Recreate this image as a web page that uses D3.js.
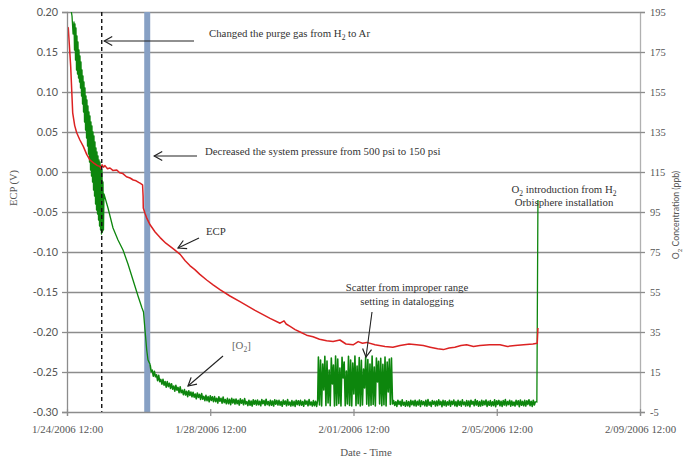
<!DOCTYPE html>
<html>
<head>
<meta charset="utf-8">
<script src="https://cdn.jsdelivr.net/npm/d3@7"></script>
<style>
  body { margin: 0; background: #fff; }
  svg { display: block; }
</style>
</head>
<body>
<svg id="chart" width="684" height="465"></svg>
<script>
// ---- axis ticks ----
const ecpTicks = [0.20, 0.15, 0.10, 0.05, 0.00, -0.05, -0.10, -0.15, -0.20, -0.25, -0.30];
const ecpTickLabels = ["0.20", "0.15", "0.10", "0.05", "0.00", "-0.05", "-0.10", "-0.15", "-0.20", "-0.25", "-0.30"];
const o2Ticks = [195, 175, 155, 135, 115, 95, 75, 55, 35, 15, -5];
const o2TickLabels = ["195", "175", "155", "135", "115", "95", "75", "55", "35", "15", "-5"];
// days elapsed since 1/24/2006 12:00
const dateTickDays = [0, 4, 8, 12, 16];
const dateTickLabels = ["1/24/2006 12:00", "1/28/2006 12:00", "2/01/2006 12:00", "2/05/2006 12:00", "2/09/2006 12:00"];

// ---- events ----
const purgeChangeDay = 0.97;
const pressureDropDay = 2.24;

// ---- ECP (V) vs elapsed days ----
const ecpData = [
  [0.02, 0.181], [0.036, 0.180], [0.103, 0.132], [0.159, 0.074], [0.215, 0.058], [0.271, 0.049],
  [0.36, 0.040], [0.455, 0.032], [0.55, 0.022], [0.642, 0.015], [0.75, 0.011], [0.85, 0.008],
  [0.92, 0.007], [0.95, 0.004], [0.98, 0.009], [1.02, 0.006], [1.06, 0.008], [1.13, 0.004],
  [1.20, 0.005], [1.28, 0.002], [1.39, 0.0025], [1.47, -0.001], [1.56, -0.002], [1.66, -0.006],
  [1.76, -0.0075], [1.85, -0.010], [1.93, -0.011], [2.00, -0.013], [2.04, -0.014], [2.11, -0.016],
  [2.125, -0.030], [2.13, -0.045], [2.18, -0.052], [2.23, -0.058], [2.32, -0.066], [2.46, -0.075],
  [2.60, -0.082], [2.76, -0.089], [2.97, -0.096], [3.16, -0.103], [3.30, -0.111], [3.43, -0.117],
  [3.57, -0.122], [3.71, -0.128], [3.90, -0.135], [4.08, -0.141], [4.27, -0.147], [4.55, -0.155],
  [4.83, -0.162], [5.25, -0.173], [5.67, -0.183], [5.95, -0.189], [6.06, -0.186], [6.12, -0.190],
  [6.23, -0.193], [6.37, -0.197], [6.51, -0.200], [6.69, -0.204], [6.87, -0.206], [7.05, -0.209],
  [7.25, -0.211], [7.43, -0.212], [7.62, -0.210], [7.79, -0.215], [7.99, -0.216], [8.13, -0.212],
  [8.25, -0.214], [8.37, -0.213], [8.60, -0.216], [8.88, -0.218], [9.10, -0.219], [9.30, -0.217],
  [9.55, -0.215], [9.76, -0.216], [9.95, -0.217], [10.14, -0.219], [10.35, -0.221], [10.51, -0.222],
  [10.67, -0.220], [10.83, -0.219], [11.00, -0.217], [11.16, -0.216], [11.35, -0.218], [11.53, -0.217],
  [11.80, -0.216], [12.09, -0.216], [12.30, -0.218], [12.51, -0.217], [12.75, -0.216], [13.01, -0.215],
  [13.13, -0.214], [13.15, -0.195]
];

// ---- O2 concentration (ppb) ----
// start-up transient, sampled irregularly
const o2Early = [
  [0.085, 199], [0.14, 193], [0.17, 184],
  [0.195, 190], [0.209, 176], [0.223, 189], [0.237, 171], [0.251, 187], [0.265, 166], [0.279, 183],
  [0.293, 164], [0.307, 180], [0.321, 162], [0.335, 176], [0.349, 160], [0.363, 173], [0.377, 157],
  [0.391, 170], [0.405, 153], [0.419, 166], [0.433, 149], [0.447, 163], [0.461, 145], [0.475, 160],
  [0.489, 140], [0.503, 157], [0.517, 136], [0.531, 153], [0.545, 132], [0.558, 151], [0.572, 128],
  [0.586, 148], [0.600, 124], [0.614, 145], [0.628, 120], [0.642, 143], [0.656, 116], [0.670, 140],
  [0.684, 113], [0.698, 138], [0.712, 110], [0.726, 135], [0.740, 106], [0.754, 133], [0.768, 103],
  [0.782, 130], [0.796, 99], [0.810, 127], [0.824, 96], [0.838, 125], [0.852, 94], [0.866, 123],
  [0.880, 91], [0.894, 121], [0.908, 88], [0.922, 120], [0.936, 86], [0.949, 118], [0.963, 84],
  [0.977, 116], [0.991, 85], [1.005, 110], [1.019, 86], [1.033, 104],
  [1.145, 97], [1.285, 87], [1.424, 81], [1.564, 76], [1.703, 69], [1.843, 61], [1.983, 53],
  [2.094, 47], [2.136, 45], [2.178, 36], [2.226, 26], [2.262, 21], [2.32, 18.8]
];
// logged at a fixed interval after the pressure change
const o2FloorStart = 2.32, o2FloorStep = 0.03;
const o2FloorValues = [
  18.8, 15.2, 15.9, 12.9, 15.3, 12.6, 13.6, 10.7, 13.3, 10.2,
  11.3, 8.9, 11.3, 8.4, 10.2, 7.4, 10.2, 7.7, 9.4, 6.8,
  9.1, 6.4, 8.0, 5.4, 8.3, 5.9, 7.3, 4.7, 7.6, 4.6,
  5.9, 3.7, 6.2, 3.5, 5.4, 2.7, 5.6, 3.3, 5.0, 2.6,
  4.9, 2.4, 4.0, 1.6, 4.5, 2.3, 3.8, 1.3, 4.2, 1.4,
  2.8, 0.7, 3.3, 0.7, 2.7, 0.1, 3.1, 0.8, 2.6, 0.2,
  2.7, 0.2, 1.9, -0.5, 2.6, 0.4, 1.9, -0.6, 2.5, -0.3,
  1.2, -0.9, 1.8, -0.8, 1.3, -1.3, 1.8, -0.5, 1.4, -1.0,
  1.5, -0.9, 0.9, -1.5, 1.6, -0.6, 1.0, -1.4, 1.7, -1.0,
  0.2, -1.8, 0.9, -1.6, 0.5, -2.0, 1.1, -1.1, 0.8, -1.5,
  1.0, -1.4, 0.4, -1.9, 1.2, -0.9, 0.7, -1.7, 1.4, -1.3,
  0.2, -1.8, 0.9, -1.6, 0.5, -2.0, 1.1, -1.1, 0.8, -1.5,
  0.8, -1.6, 0.2, -2.1, 1.0, -1.1, 0.5, -1.9, 1.2, -1.5,
  0.0, -2.0, 0.7, -1.8, 0.3, -2.2, 0.9, -1.3, 0.6, -1.7,
  0.8, -1.6, 0.2, -2.1, 1.0, -1.1, 0.5, -1.9, 1.2, -1.5,
  0.0, -2.0, 0.7, -1.8, 0.3, -2.2, 0.9
];
// improper range setting in the datalogger
const o2ScatterStart = 7.02, o2ScatterStep = 0.03;
const o2ScatterValues = [
  22.5, -1.5, 21, -2, 19, 6, 22.8, -1.8, 20.5, -0.5,
  16, -1.9, 22, 9, 18.5, -2, 23, -1.6, 21.5, -0.8,
  17, -2, 22.4, 12, 20, -1.9, 15.5, -1, 22.9, -1.7,
  21, -2, 19.5, 4, 23, -1.8, 18, -0.9, 22.2, -2,
  20.8, -1.5, 16.5, 7, 22.6, -1.1, 21.2, -2, 19, -1.6,
  23, -1.2, 17.5, -2, 22, 10, 20.4, -1, 21.8, -1.9,
  18.8, -1.4, 22.5, -2, 20, 5, 21.5, -1.2, 22, -1
];
const o2Floor2Start = 9.12, o2Floor2Step = 0.03;
const o2Floor2Values = [
  0.7, -1.7, 0.1, -2.2, 0.9, -1.2, 0.4, -2.0, 1.1, -1.6, -0.1, -2.1, 0.6, -1.9, 0.2, -2.3, 0.8, -1.4, 0.5, -1.8,
  0.9, -2.0, 0.3, -1.5, 1.0, -2.2, 0.6, -1.3, 0.2, -1.9, 0.8, -2.1, 1.2, -1.6, 0.0, -2.2, 0.7, -1.1, 0.4, -2.0,
  0.5, -1.8, 1.1, -1.4, 0.3, -2.3, 0.8, -1.7, 0.6, -2.0, 0.1, -1.5, 0.9, -2.1, 0.4, -1.2, 1.0, -1.9, 0.2, -2.2,
  0.8, -1.6, 0.4, -2.1, 1.1, -1.3, 0.0, -2.0, 0.7, -1.8, 0.5, -2.3, 0.9, -1.1, 0.3, -1.9, 1.2, -1.5, 0.6, -2.1,
  0.2, -2.0, 0.9, -1.7, 0.5, -1.4, 1.0, -2.2, 0.3, -1.6, 0.7, -2.0, 0.1, -1.8, 1.1, -2.3, 0.6, -1.2, 0.8, -1.9,
  0.4, -2.2, 0.7, -1.5, 1.2, -1.9, 0.2, -1.3, 0.9, -2.1, 0.5, -1.7, 0.0, -2.0, 0.8, -1.4, 0.6, -2.3, 1.0, -1.6,
  0.3, -1.9, 0.8, -2.0, 0.6, -1.2, 1.1, -1.8, 0.4, -2.2, 0.9, -1.5, 0.2
];
// O2 introduced from the H2 Orbisphere installation
const o2Spike = [[13.12, 0], [13.15, 101]];

// ---- layout ----
const margin = { left: 67, right: 44, top: 12, bottom: 53 };
const W = 684, H = 465;
const plotW = W - margin.left - margin.right;
const plotH = H - margin.top - margin.bottom;

const svg = d3.select("#chart");
const x = d3.scaleLinear().domain([0, 16]).range([margin.left, margin.left + plotW]);
const yL = d3.scaleLinear().domain([-0.30, 0.20]).range([margin.top + plotH, margin.top]);
const yR = d3.scaleLinear().domain([-5, 195]).range([margin.top + plotH, margin.top]);

const gridColor = "#8c8c8c";
const textColor = "#555";
const sansFont = "Lato, 'Liberation Sans', sans-serif";
const serifFont = "'Liberation Serif', 'DejaVu Serif', serif";
const noteSize = 10.8;
const o2Color = "#0d860d";
const ecpColor = "#dc2222";

// horizontal gridlines
svg.append("g")
  .attr("transform", `translate(${margin.left},0)`)
  .call(d3.axisLeft(yL).tickValues(ecpTicks.slice(0, -1)).tickSize(-plotW).tickFormat(""))
  .call(g => g.select(".domain").remove())
  .call(g => g.selectAll("line").attr("stroke", gridColor).attr("stroke-width", 1.3));

svg.append("clipPath").attr("id", "plot-clip")
  .append("rect").attr("x", margin.left).attr("y", margin.top).attr("width", plotW).attr("height", plotH);

// pressure change marker
svg.append("line")
  .attr("x1", x(pressureDropDay)).attr("x2", x(pressureDropDay))
  .attr("y1", margin.top).attr("y2", margin.top + plotH)
  .attr("stroke", "#87a0c4").attr("stroke-width", 6);

const plot = svg.append("g").attr("clip-path", "url(#plot-clip)");

// O2: transient plus the fixed-interval logged record
const o2Logged = []
  .concat(o2FloorValues.map((v, i) => [o2FloorStart + i * o2FloorStep, v]))
  .concat(o2ScatterValues.map((v, i) => [o2ScatterStart + i * o2ScatterStep, v]))
  .concat(o2Floor2Values.map((v, i) => [o2Floor2Start + i * o2Floor2Step, v]));

const o2Line = d3.line().x(d => x(d[0])).y(d => yR(d[1]));

plot.append("path")
  .datum(o2Early)
  .attr("fill", "none").attr("stroke", o2Color)
  .attr("stroke-width", 1.3).attr("stroke-linejoin", "round")
  .attr("d", o2Line);

plot.append("path")
  .datum(o2Logged)
  .attr("fill", "none").attr("stroke", o2Color)
  .attr("stroke-width", 1.6).attr("stroke-linejoin", "round")
  .attr("d", o2Line);

plot.append("path")
  .datum([o2Logged[o2Logged.length - 1]].concat(o2Spike))
  .attr("fill", "none").attr("stroke", o2Color)
  .attr("stroke-width", 1.3)
  .attr("d", o2Line);

plot.append("path")
  .datum(ecpData)
  .attr("fill", "none").attr("stroke", ecpColor)
  .attr("stroke-width", 1.5).attr("stroke-linejoin", "round")
  .attr("d", d3.line().x(d => x(d[0])).y(d => yL(d[1])));

// purge gas change marker
svg.append("line")
  .attr("x1", x(purgeChangeDay)).attr("x2", x(purgeChangeDay))
  .attr("y1", margin.top).attr("y2", margin.top + plotH)
  .attr("stroke", "#111").attr("stroke-width", 1.4)
  .attr("stroke-dasharray", "4,3");

// left axis
svg.append("g")
  .attr("transform", `translate(${margin.left},0)`)
  .call(d3.axisLeft(yL).tickValues(ecpTicks).tickSize(5).tickPadding(4)
    .tickFormat((d, i) => ecpTickLabels[i]))
  .call(g => g.select(".domain").attr("stroke", gridColor).attr("stroke-width", 1.3))
  .call(g => g.selectAll("line").attr("stroke", gridColor).attr("stroke-width", 1.3))
  .call(g => g.selectAll("text").attr("fill", textColor).attr("font-size", 10.8).attr("font-family", sansFont));

// right axis
svg.append("g")
  .attr("transform", `translate(${margin.left + plotW},0)`)
  .call(d3.axisRight(yR).tickValues(o2Ticks).tickSize(5).tickPadding(5)
    .tickFormat((d, i) => o2TickLabels[i]))
  .call(g => g.select(".domain").attr("stroke", "#b0b0b0").attr("stroke-width", 1.3))
  .call(g => g.selectAll("line").attr("stroke", gridColor).attr("stroke-width", 1.3))
  .call(g => g.selectAll("text").attr("fill", textColor).attr("font-size", 10.5).attr("font-family", serifFont));

// bottom axis
svg.append("g")
  .attr("transform", `translate(0,${margin.top + plotH})`)
  .call(d3.axisBottom(x).tickValues(dateTickDays).tickSize(4).tickPadding(9)
    .tickFormat((d, i) => dateTickLabels[i]))
  .call(g => g.select(".domain").attr("stroke", gridColor).attr("stroke-width", 1.3))
  .call(g => g.selectAll("line").attr("stroke", gridColor).attr("y1", -3).attr("stroke-width", 1.2))
  .call(g => g.selectAll("text").attr("fill", textColor).attr("font-size", 10.8).attr("font-family", serifFont));

// axis titles
svg.append("text")
  .attr("transform", `translate(17,188) rotate(-90)`)
  .attr("text-anchor", "middle").attr("fill", textColor)
  .attr("font-size", 10.5).attr("font-family", serifFont)
  .text("ECP (V)");

svg.append("text")
  .attr("x", 366).attr("y", 456)
  .attr("text-anchor", "middle").attr("fill", textColor)
  .attr("font-size", 10.8).attr("font-family", serifFont)
  .text("Date - Time");

// text with subscripts: parts are [string, isSub]
function richText(parent, px, py, parts, opts) {
  const o = opts || {};
  const size = o.size || noteSize;
  const t = parent.append("text")
    .attr("x", px).attr("y", py)
    .attr("text-anchor", o.anchor || "start")
    .attr("fill", o.fill || "#333")
    .attr("font-size", size)
    .attr("font-family", o.family || serifFont);
  if (o.transform) t.attr("transform", o.transform);
  let shifted = false;
  parts.forEach(([s, sub]) => {
    const sp = t.append("tspan").text(s);
    if (sub) sp.attr("font-size", size * 0.7);
    if (sub && !shifted) { sp.attr("dy", 2.5); shifted = true; }
    else if (!sub && shifted) { sp.attr("dy", -2.5); shifted = false; }
  });
  return t;
}

richText(svg, 679, 215, [["O", false], ["2", true], [" Concentration (ppb)", false]],
  { anchor: "middle", fill: textColor, size: 8.7, family: sansFont, transform: "rotate(-90,679,215)" });

// annotation arrows with open heads
svg.append("defs").append("marker")
  .attr("id", "open-arrow").attr("viewBox", "-10 -6 11 12")
  .attr("refX", 0).attr("refY", 0).attr("markerWidth", 11).attr("markerHeight", 12)
  .attr("markerUnits", "userSpaceOnUse").attr("orient", "auto")
  .append("path").attr("d", "M-8,-4.5 L0,0 L-8,4.5").attr("fill", "none")
  .attr("stroke", "#222").attr("stroke-width", 1.2);

function arrow(x1, y1, x2, y2) {
  svg.append("line")
    .attr("x1", x1).attr("y1", y1).attr("x2", x2).attr("y2", y2)
    .attr("stroke", "#222").attr("stroke-width", 1.1)
    .attr("marker-end", "url(#open-arrow)");
}

arrow(194, 41, x(purgeChangeDay) + 2.5, 41);
richText(svg, 209, 37, [["Changed the purge gas from H", false], ["2", true], [" to Ar", false]]);

arrow(197, 156, x(pressureDropDay) + 7, 156);
richText(svg, 205, 155, [["Decreased the system pressure from 500 psi to 150 psi", false]]);

arrow(199, 238, 178, 248);
richText(svg, 206, 235, [["ECP", false]]);

arrow(223, 356, 188, 386);
richText(svg, 232, 349, [["[O", false], ["2", true], ["]", false]], { fill: "#666" });

arrow(372, 312, 366, 357);
richText(svg, 407, 291, [["Scatter from improper range", false]], { anchor: "middle" });
richText(svg, 407, 305, [["setting in datalogging", false]], { anchor: "middle" });

richText(svg, 564, 193, [["O", false], ["2", true], [" introduction from H", false], ["2", true]], { anchor: "middle" });
richText(svg, 564, 206, [["Orbisphere installation", false]], { anchor: "middle" });
</script>
</body>
</html>
